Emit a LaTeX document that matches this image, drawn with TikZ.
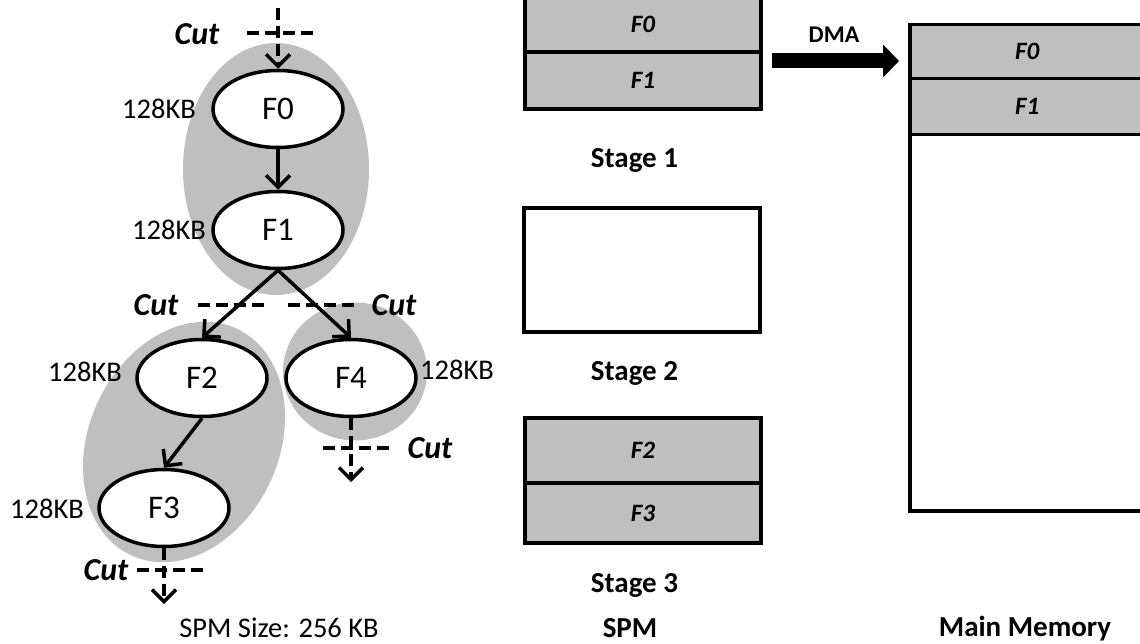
\documentclass[tikz,border=0pt]{standalone}
\usepackage{fontspec}
\setmainfont{Carlito}
\usetikzlibrary{shapes.geometric,arrows.meta}
\definecolor{blobgray}{RGB}{191,191,191}

\begin{document}
\begin{tikzpicture}[x=1pt,y=-1pt,
  fn/.style={ellipse,draw,line width=3.5pt,fill=white,minimum width=130pt,
    minimum height=77pt,inner sep=0pt,font=\fontsize{33}{36}\selectfont},
  sizelbl/.style={font=\fontsize{28.5}{32}\selectfont},
  cutlbl/.style={font=\fontsize{32}{35}\selectfont\bfseries\itshape},
  flow/.style={line width=3.5pt,-{Straight Barb[length=12pt,width=24pt]}},
  cutflow/.style={flow,dash pattern=on 12pt off 6pt},
  cutline/.style={line width=4pt,dash pattern=on 12pt off 6pt},
  slot/.style={draw,line width=3.5pt,minimum width=236pt,inner sep=0pt,
    font=\fontsize{25}{28}\selectfont\bfseries\itshape},
  title/.style={font=\fontsize{29}{32}\selectfont\bfseries,anchor=base},
]
\useasboundingbox (0,0) rectangle (1140,644);

% groups of functions that share one SPM load
\fill[blobgray] (276,169) ellipse [x radius=93, y radius=126];
\fill[blobgray, rotate around={-25:(184,442)}] (184,442) ellipse [x radius=95, y radius=125];
\fill[blobgray] (355,371.5) ellipse [x radius=72, y radius=69];

% call graph
\node[fn] (F0) at (278,109) {F0};
\node[fn] (F1) at (278,230) {F1};
\node[fn] (F2) at (202,378) {F2};
\node[fn] (F4) at (351,378) {F4};
\node[fn] (F3) at (164,508) {F3};

\draw[flow] (F0.south) -- (F1.north);
\draw[flow] (F1.south) -- (F2.north);
\draw[flow] (F1.south) -- (F4.north);
\draw[flow] (F2.south) -- (F3.north);

% function sizes
\node[sizelbl] (k0) at (159,109) {128KB};
\node[sizelbl] (k1) at (169,230) {128KB};
\node[sizelbl] (k2) at (85,372) {128KB};
\node[sizelbl] (k3) at (47,509) {128KB};
\node[sizelbl] (k4) at (457,370) {128KB};

% cuts
\coordinate (in0) at (278,8);
\coordinate (out4) at (351,482);
\coordinate (out3) at (164,604);
\draw[cutflow] (in0) -- (F0.north);
\draw[cutflow] (F4.south) -- (out4);
\draw[cutflow] (F3.south) -- (out3);

\coordinate (ca1) at (247,33);  \coordinate (ca2) at (316,33);
\coordinate (cb1) at (198,305); \coordinate (cb2) at (267,305);
\coordinate (cc1) at (288,305); \coordinate (cc2) at (358,305);
\coordinate (cd1) at (323,448); \coordinate (cd2) at (393,448);
\coordinate (ce1) at (137,570); \coordinate (ce2) at (207,570);
\draw[cutline] (ca1) -- (ca2);
\draw[cutline] (cb1) -- (cb2);
\draw[cutline] (cc1) -- (cc2);
\draw[cutline] (cd1) -- (cd2);
\draw[cutline] (ce1) -- (ce2);

\node[cutlbl] (cut0) at (197,34) {Cut};
\node[cutlbl] (cut1) at (156,305) {Cut};
\node[cutlbl] (cut2) at (394,305) {Cut};
\node[cutlbl] (cut4) at (430,448) {Cut};
\node[cutlbl] (cut3) at (106,570) {Cut};

\node[font=\fontsize{28.5}{32}\selectfont,anchor=base] (spmsize) at (279,637) {SPM Size: 256 KB};

% SPM contents per stage
\node[slot,fill=blobgray,minimum height=56pt] (s1a) at (643,24) {F0};
\node[slot,fill=blobgray,minimum height=57pt] (s1b) at (643,80.5) {F1};
\node[title] (st1) at (634.5,168) {Stage 1};

\node[slot,minimum height=124pt] (s2) at (642,270) {};
\node[title] (st2) at (634.5,380) {Stage 2};

\node[slot,fill=blobgray,minimum height=65pt] (s3a) at (643,450.5) {F2};
\node[slot,fill=blobgray,minimum height=60pt] (s3b) at (643,513) {F3};
\node[title] (st3) at (634.5,592) {Stage 3};
\node[title] (spm) at (630,637) {SPM};

% main memory
\node[slot,minimum width=235pt,minimum height=486pt,anchor=north west] (mm) at (908,23) {};
\node[slot,fill=blobgray,minimum width=235pt,minimum height=54pt,anchor=north west] (m0) at (908,23) {F0};
\node[slot,fill=blobgray,minimum width=235pt,minimum height=56pt,anchor=north west] (m1) at (908,77) {F1};
\node[title] (mmlbl) at (1025,636) {Main Memory};

% DMA transfer
\coordinate (dmaS) at (772,61);
\coordinate (dmaE) at (899,61);
\draw[line width=15pt,-{Triangle[length=16pt,width=32pt]}] (dmaS) -- (dmaE);
\node[font=\fontsize{24}{27}\selectfont\bfseries] (dma) at (834,35) {DMA};
\end{tikzpicture}
\end{document}
